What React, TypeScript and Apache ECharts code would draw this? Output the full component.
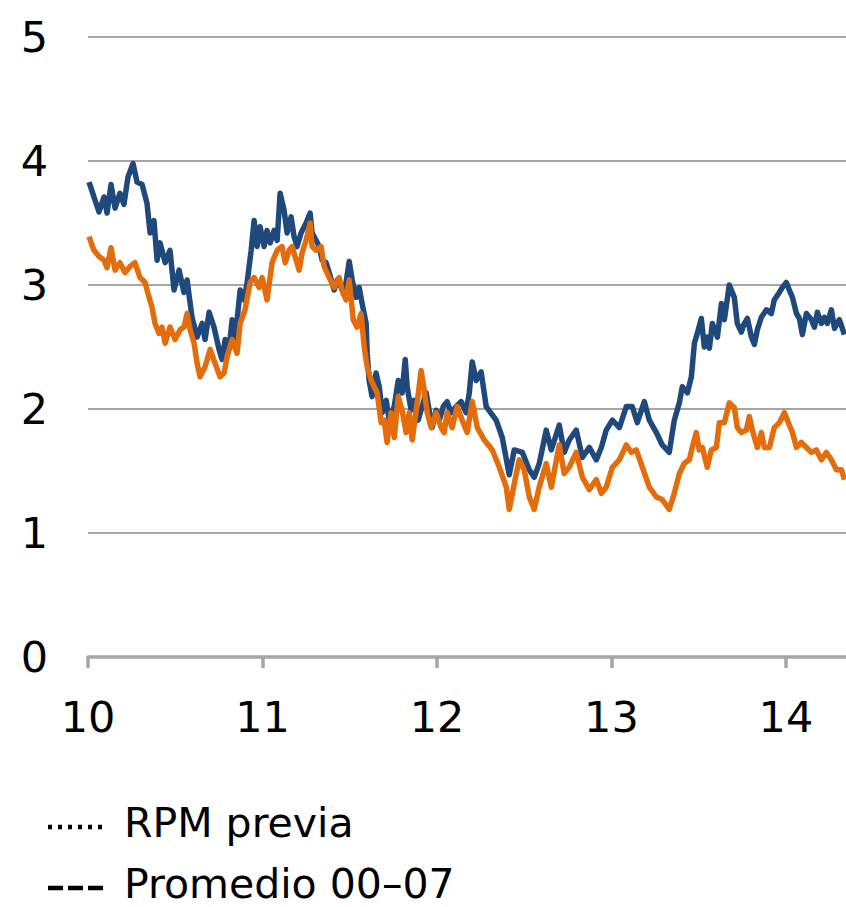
import React, { useEffect, useRef } from "react";
import * as echarts from "echarts";

const blueDates = [10.006,10.034,10.063,10.092,10.109,10.132,10.155,10.183,10.206,10.229,10.258,10.281,10.310,10.338,10.356,10.378,10.396,10.413,10.442,10.470,10.493,10.522,10.550,10.568,10.596,10.625,10.654,10.671,10.694,10.722,10.751,10.768,10.786,10.808,10.826,10.843,10.872,10.894,10.912,10.935,10.952,10.969,10.986,11.009,11.026,11.044,11.067,11.084,11.101,11.124,11.141,11.164,11.181,11.198,11.221,11.250,11.273,11.284,11.307,11.325,11.342,11.365,11.382,11.411,11.428,11.451,11.468,11.497,11.514,11.537,11.554,11.571,11.594,11.600,11.611,11.628,11.651,11.669,11.686,11.709,11.726,11.755,11.778,11.800,11.818,11.829,11.852,11.869,11.892,11.915,11.938,11.955,11.972,11.995,12.013,12.036,12.058,12.081,12.110,12.139,12.167,12.185,12.202,12.225,12.253,12.282,12.339,12.374,12.414,12.443,12.489,12.529,12.557,12.586,12.626,12.655,12.701,12.729,12.758,12.798,12.833,12.873,12.913,12.942,12.970,13.005,13.045,13.085,13.119,13.148,13.188,13.217,13.257,13.291,13.331,13.360,13.389,13.406,13.435,13.458,13.475,13.492,13.515,13.532,13.549,13.561,13.578,13.607,13.630,13.647,13.675,13.704,13.721,13.744,13.761,13.779,13.802,13.819,13.836,13.859,13.888,13.916,13.933,13.962,13.979,14.002,14.019,14.037,14.060,14.077,14.094,14.117,14.146,14.163,14.180,14.203,14.220,14.237,14.260,14.278,14.306,14.335];
const blueValues = [3.83,3.71,3.59,3.71,3.58,3.81,3.62,3.74,3.65,3.87,3.98,3.83,3.81,3.66,3.42,3.52,3.20,3.34,3.18,3.28,2.96,3.12,2.94,3.04,2.74,2.58,2.69,2.56,2.78,2.66,2.48,2.40,2.56,2.48,2.72,2.56,2.96,2.88,3.02,3.28,3.52,3.31,3.47,3.31,3.44,3.34,3.44,3.36,3.74,3.60,3.42,3.55,3.39,3.31,3.42,3.50,3.58,3.42,3.36,3.31,3.20,3.18,3.10,2.96,3.04,2.98,2.92,3.19,3.04,2.90,2.98,2.85,2.69,2.45,2.23,2.10,2.29,2.18,1.97,2.07,1.91,2.02,2.23,2.13,2.40,2.18,1.99,2.07,1.91,2.02,2.13,1.99,1.85,1.99,1.91,2.02,2.06,1.97,2.02,2.06,1.97,2.13,2.38,2.23,2.30,2.02,1.91,1.77,1.47,1.67,1.65,1.51,1.45,1.56,1.83,1.67,1.87,1.65,1.75,1.83,1.61,1.69,1.59,1.69,1.83,1.91,1.85,2.02,2.02,1.89,2.06,1.91,1.81,1.71,1.65,1.91,2.05,2.18,2.13,2.26,2.53,2.61,2.73,2.50,2.58,2.49,2.69,2.58,2.85,2.72,3.00,2.90,2.69,2.62,2.69,2.73,2.58,2.52,2.64,2.74,2.80,2.77,2.88,2.94,2.98,3.02,2.96,2.90,2.77,2.73,2.60,2.77,2.72,2.66,2.78,2.69,2.74,2.69,2.80,2.65,2.72,2.60];

const orangeDates = [10.006,10.034,10.063,10.092,10.109,10.132,10.155,10.183,10.212,10.241,10.269,10.298,10.327,10.350,10.367,10.384,10.407,10.424,10.442,10.470,10.499,10.528,10.550,10.568,10.585,10.608,10.625,10.642,10.671,10.700,10.728,10.757,10.780,10.797,10.826,10.854,10.872,10.900,10.929,10.952,10.981,10.998,11.026,11.055,11.084,11.112,11.130,11.153,11.170,11.193,11.210,11.227,11.250,11.273,11.284,11.307,11.336,11.353,11.382,11.411,11.439,11.456,11.479,11.497,11.520,11.542,11.565,11.583,11.600,11.623,11.640,11.657,11.680,11.697,11.714,11.737,11.755,11.778,11.800,11.823,11.841,11.858,11.881,11.909,11.927,11.944,11.967,11.995,12.024,12.041,12.058,12.087,12.116,12.144,12.173,12.202,12.231,12.271,12.317,12.357,12.397,12.414,12.443,12.471,12.500,12.529,12.557,12.586,12.626,12.655,12.701,12.729,12.758,12.798,12.833,12.873,12.913,12.942,12.970,13.005,13.045,13.085,13.114,13.142,13.177,13.217,13.257,13.291,13.331,13.360,13.389,13.417,13.446,13.463,13.486,13.503,13.521,13.549,13.572,13.601,13.618,13.647,13.675,13.704,13.721,13.744,13.773,13.790,13.807,13.836,13.859,13.876,13.905,13.933,13.962,13.991,14.008,14.037,14.060,14.088,14.117,14.146,14.174,14.203,14.232,14.260,14.289,14.318,14.335];
const orangeValues = [3.39,3.28,3.23,3.20,3.14,3.30,3.12,3.18,3.10,3.15,3.18,3.06,3.02,2.90,2.82,2.69,2.61,2.66,2.53,2.66,2.56,2.64,2.66,2.77,2.64,2.53,2.37,2.26,2.34,2.48,2.37,2.26,2.29,2.42,2.56,2.45,2.69,2.80,3.02,3.06,2.98,3.06,2.88,3.18,3.28,3.31,3.18,3.28,3.31,3.20,3.12,3.26,3.36,3.50,3.31,3.28,3.31,3.15,3.06,2.98,3.06,2.96,2.88,3.04,2.72,2.66,2.77,2.50,2.34,2.23,2.18,2.13,1.89,1.91,1.73,1.97,1.77,2.10,1.99,1.81,1.97,1.75,1.99,2.31,2.15,1.97,1.85,1.97,1.85,1.81,1.97,1.85,2.02,1.91,1.81,2.06,1.85,1.75,1.67,1.53,1.37,1.19,1.40,1.59,1.51,1.29,1.19,1.37,1.56,1.37,1.71,1.48,1.53,1.65,1.45,1.35,1.43,1.32,1.37,1.53,1.59,1.71,1.65,1.67,1.53,1.37,1.29,1.27,1.19,1.32,1.48,1.56,1.59,1.69,1.81,1.67,1.69,1.53,1.67,1.69,1.89,1.89,2.05,2.01,1.85,1.81,1.83,1.94,1.83,1.69,1.81,1.69,1.69,1.85,1.89,1.97,1.91,1.81,1.69,1.73,1.69,1.65,1.67,1.59,1.65,1.59,1.51,1.51,1.43];

const xTicks = [10, 11, 12, 13, 14];
const xMin = 10;
const xMax = 14.344;
const yMin = 0;
const yMax = 5;
const legendNames = ["RPM previa", "Promedio 00\u201307"];

const FONT = "DejaVu Sans";

export default function App() {
  const ref = useRef<HTMLDivElement>(null);
  useEffect(() => {
    if (!ref.current) return;
    const chart = echarts.init(ref.current, undefined, { renderer: "svg" });
    const pair = (d: number[], v: number[]) => d.map((x, i) => [x, v[i]]);
    const legendItem = (name: string, y: number, dash: number[]) => ({
      type: "group",
      children: [
        {
          type: "line",
          shape: { x1: 48, y1: y + 4, x2: 105, y2: y + 4 },
          style: { stroke: "#000", lineWidth: 4.5, lineDash: dash },
        },
        {
          type: "text",
          x: 124,
          y: y,
          style: {
            text: name,
            font: `41px "${FONT}"`,
            lineHeight: 38,
            fill: "#000",
            verticalAlign: "middle",
            align: "left",
          },
        },
      ],
    });
    chart.setOption({
      animation: false,
      backgroundColor: "#ffffff",
      grid: { left: 88, right: 0, top: 37, bottom: 250, containLabel: false },
      xAxis: {
        type: "value",
        min: xMin,
        max: xMax,
        interval: 1,
        axisLine: { show: true, lineStyle: { color: "#a6a6a6", width: 3.5 } },
        axisTick: {
          show: true,
          customValues: xTicks,
          length: 11,
          lineStyle: { color: "#a6a6a6", width: 3.5 },
        },
        axisLabel: {
          customValues: xTicks,
          fontSize: 43,
          fontFamily: FONT,
          color: "#000",
          margin: 38,
        },
        splitLine: { show: false },
      },
      yAxis: {
        type: "value",
        min: yMin,
        max: yMax,
        interval: 1,
        axisLine: { show: false },
        axisTick: { show: false },
        axisLabel: {
          fontSize: 43,
          fontFamily: FONT,
          color: "#000",
          margin: 40,
          verticalAlign: "middle",
        },
        splitLine: {
          show: true,
          showMinLine: false,
          lineStyle: { color: "#a6a6a6", width: 2 },
        },
      },
      graphic: [
        legendItem(legendNames[0], 823, [4, 6]),
        legendItem(legendNames[1], 884, [15, 5]),
      ],
      series: [
        {
          name: "Serie azul",
          type: "line",
          data: pair(blueDates, blueValues),
          showSymbol: false,
          symbol: "none",
          lineStyle: { color: "#1F497D", width: 5.5, join: "round" },
          itemStyle: { color: "#1F497D" },
          clip: true,
        },
        {
          name: "Serie naranja",
          type: "line",
          data: pair(orangeDates, orangeValues),
          showSymbol: false,
          symbol: "none",
          lineStyle: { color: "#E46C0A", width: 5.5, join: "round" },
          itemStyle: { color: "#E46C0A" },
          clip: true,
        },
      ],
    });
    return () => chart.dispose();
  }, []);
  return (
    <div
      ref={ref}
      style={{ position: "fixed", left: 0, top: 0, width: 846, height: 907, background: "#fff" }}
    />
  );
}
